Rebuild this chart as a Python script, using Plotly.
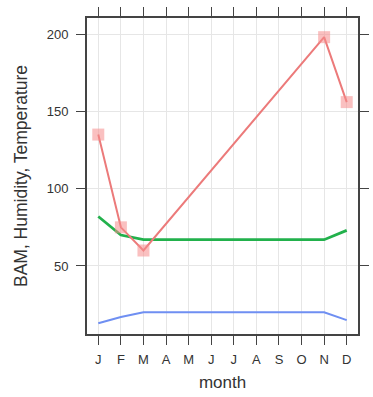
import plotly.graph_objects as go

month_labels = ["J", "F", "M", "A", "M", "J", "J", "A", "S", "O", "N", "D"]
month_idx = list(range(1, 13))

bam_months = [1, 2, 3, 11, 12]
bam_values = [135, 75, 60, 198, 156]

humidity_values = [82, 70, 67, 67, 67, 67, 67, 67, 67, 67, 67, 73]
temperature_values = [13, 17, 20, 20, 20, 20, 20, 20, 20, 20, 20, 15]

fig = go.Figure()

fig.add_trace(go.Scatter(
    x=month_idx, y=temperature_values, mode="lines",
    line=dict(color="#6f8ff2", width=2), showlegend=False))
fig.add_trace(go.Scatter(
    x=month_idx, y=humidity_values, mode="lines",
    line=dict(color="#22b14c", width=2.8), showlegend=False))
fig.add_trace(go.Scatter(
    x=bam_months, y=bam_values, mode="lines+markers",
    line=dict(color="#ec7a7a", width=2),
    marker=dict(symbol="square", size=12, color="rgba(246,140,140,0.55)",
                line=dict(width=0)),
    showlegend=False))

font = "Liberation Sans, Arial, sans-serif"
fig.update_layout(
    width=373, height=397,
    margin=dict(l=87, r=4, t=18, b=63),
    paper_bgcolor="white", plot_bgcolor="white",
    font=dict(family=font, color="#333333", size=13),
)
fig.update_xaxes(
    range=[0.5, 12.5], tickmode="array", tickvals=month_idx, ticktext=month_labels,
    showgrid=True, gridcolor="#e6e6e6", gridwidth=1,
    showline=True, linecolor="#444444", linewidth=2, mirror="ticks",
    ticks="outside", ticklen=9, tickcolor="#444444", tickwidth=1.2,
    ticklabelstandoff=3,
    tickfont=dict(size=13, color="#333333"), zeroline=False,
    title=dict(text="month", font=dict(size=17, color="#333333"), standoff=11),
)
fig.update_yaxes(
    range=[6, 210.4], tickmode="array", tickvals=[50, 100, 150, 200],
    showgrid=True, gridcolor="#e6e6e6", gridwidth=1,
    showline=True, linecolor="#444444", linewidth=2, mirror="ticks",
    ticks="outside", ticklen=9, tickcolor="#444444", tickwidth=1.2,
    ticklabelstandoff=5,
    tickfont=dict(size=13, color="#333333"), zeroline=False,
    title=dict(text="BAM, Humidity, Temperature", font=dict(size=17.5, color="#333333"), standoff=15),
)

fig.write_html("out.html")
